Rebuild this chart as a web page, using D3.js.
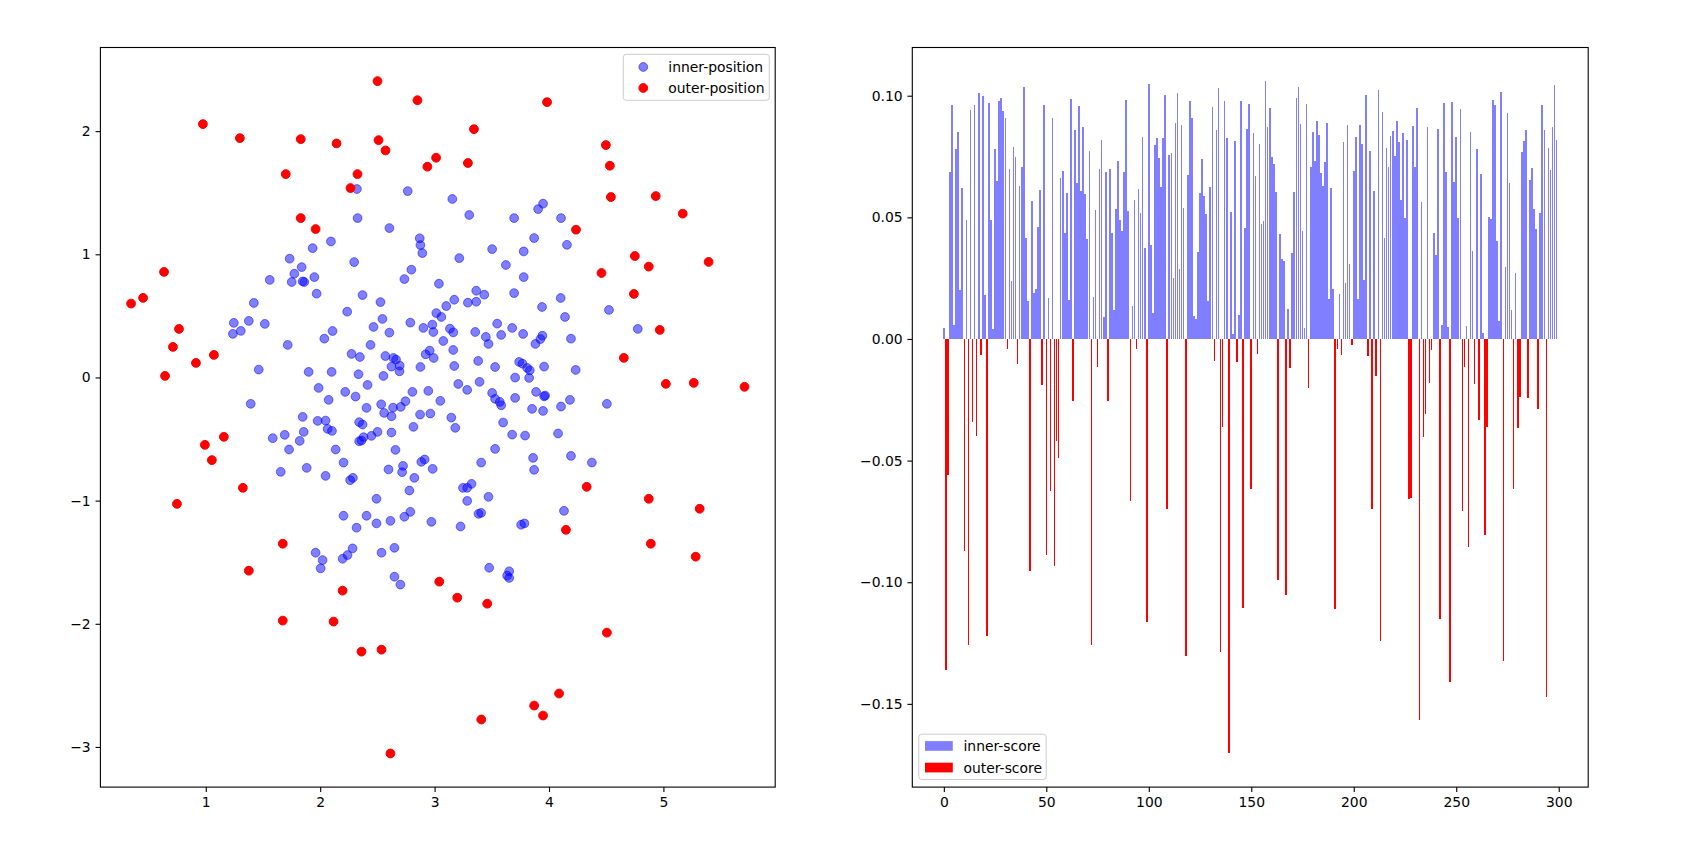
<!DOCTYPE html>
<html><head><meta charset="utf-8">
<script src="https://cdn.jsdelivr.net/npm/d3@7"></script>
<style>
html,body{margin:0;padding:0;background:#fff;}
svg{display:block;font-family:"DejaVu Sans",sans-serif;}
</style></head><body>
<svg id="fig" width="1693" height="854"></svg>
<script>
// ---------------- data ----------------
const innerX = [1.934,2.094,2.876,2.893,3.216,3.503,3.779,4.157,1.733,1.838,2.297,1.774,1.949,1.751,1.847,1.861,1.969,2.797,2.736,3.038,3.623,3.779,3.364,3.434,3.695,2.370,2.527,3.172,3.291,3.364,3.102,4.102,3.939,2.236,3.015,3.059,2.544,2.788,2.980,3.547,4.140,2.466,2.108,2.036,2.605,2.902,3.134,3.163,2.989,3.355,3.678,3.774,3.582,3.448,3.471,3.076,3.942,3.925,3.881,4.192,1.716,2.440,3.163,2.957,2.922,2.992,2.274,2.347,2.570,2.640,2.663,2.623,2.695,2.693,2.876,3.172,3.381,3.529,3.739,3.768,3.809,3.832,3.826,3.957,4.233,1.899,2.100,2.335,2.553,2.414,1.986,2.219,2.074,2.309,2.806,2.945,3.207,3.285,3.393,3.704,3.503,3.529,3.570,3.582,3.704,3.887,3.957,4.183,4.105,3.852,3.948,3.050,2.745,2.704,2.637,2.533,2.405,2.559,2.623,2.873,2.963,3.146,3.181,2.815,1.847,1.978,2.047,2.065,2.103,2.341,2.370,1.856,1.821,1.728,2.448,2.501,2.623,2.379,2.341,2.361,3.599,3.678,3.791,4.079,2.135,2.658,3.529,3.861,4.192,4.375,1.882,2.204,2.047,2.262,2.286,2.597,2.724,2.716,2.884,2.913,2.983,2.823,3.407,3.870,3.248,3.285,3.323,2.780,2.492,3.285,3.471,2.204,2.405,2.318,2.492,2.614,2.736,2.788,2.972,3.227,3.384,3.407,3.756,3.785,4.131,1.960,2.021,2.196,2.239,2.283,2.536,2.649,3.966,
2.321,2.765,2.327,2.605,2.870,1.559,1.420,1.245,1.376,1.516,1.237,1.306,1.463,1.393,
3.870,4.524,4.776,4.506,3.155,3.303,3.695,3.905,3.948,4.105,
1.585,1.655,2.004,2.649,2.701,1.690,
3.477,3.652,3.634,3.652];
const innerY = [1.050,1.104,1.075,1.010,0.969,1.042,1.023,1.077,0.964,0.896,0.937,0.842,0.815,0.775,0.780,0.775,0.680,0.875,0.799,0.761,0.913,0.815,0.704,0.672,0.685,0.669,0.612,0.631,0.607,0.615,0.580,0.645,0.572,0.534,0.523,0.491,0.475,0.445,0.429,0.437,0.491,0.410,0.377,0.315,0.364,0.402,0.396,0.366,0.369,0.369,0.402,0.353,0.345,0.329,0.272,0.296,0.339,0.312,0.272,0.315,0.264,0.264,0.223,0.218,0.188,0.158,0.191,0.166,0.174,0.158,0.145,0.088,0.096,0.050,0.085,0.093,0.134,0.085,0.126,0.112,0.077,0.058,-0.004,0.088,0.061,0.045,0.045,0.026,0.012,-0.061,-0.085,-0.117,-0.182,-0.155,-0.117,-0.109,-0.053,-0.101,-0.036,-0.001,-0.126,-0.174,-0.199,-0.226,-0.166,-0.117,-0.153,-0.182,-0.236,-0.255,-0.272,-0.190,-0.193,-0.239,-0.245,-0.218,-0.247,-0.288,-0.315,-0.301,-0.293,-0.326,-0.409,-0.401,-0.320,-0.353,-0.350,-0.418,-0.434,-0.363,-0.382,-0.442,-0.515,-0.585,-0.474,-0.442,-0.447,-0.485,-0.518,-0.512,-0.366,-0.464,-0.472,-0.455,-0.585,-0.588,-0.580,-0.653,-0.637,-0.691,-0.734,-0.691,-0.799,-0.834,-0.815,-0.747,-0.718,-0.769,-0.685,-0.666,-0.742,-0.815,-0.691,-0.750,-0.896,-0.896,-0.864,-0.918,-0.985,-1.002,-0.969,-1.123,-1.123,-1.220,-1.185,-1.164,-1.131,-1.091,-1.172,-1.210,-1.107,-1.099,-1.196,-1.185,-1.083,-1.423,-1.483,-1.472,-1.442,-1.388,-1.423,-1.383,-0.147,
1.530,1.513,1.294,1.213,1.130,0.792,0.605,0.443,0.459,0.435,0.354,0.378,0.064,-0.214,
1.132,0.548,0.394,-0.214,1.449,1.319,1.294,1.367,1.411,1.294,
-0.493,-0.766,-1.550,-1.618,-1.682,-0.466,
-1.545,-1.574,-1.609,-1.628];
const outerX = [4.459,4.329,4.148,2.501,2.850,0.975,1.298,1.830,2.143,2.510,2.571,3.013,2.937,1.699,2.326,2.265,1.830,1.960,0.635,0.452,0.347,0.766,0.713,0.914,1.071,0.644,3.983,3.344,3.291,4.497,4.532,4.541,4.933,5.169,4.236,4.750,4.872,5.395,4.742,4.968,4.654,5.021,5.265,5.709,1.158,0.992,1.053,1.324,0.748,1.673,1.376,2.196,1.673,2.117,2.361,2.536,2.614,3.041,3.198,3.460,4.872,5.317,4.890,5.282,4.506,4.088,3.870,3.948,3.408];
const outerY = [0.848,-0.888,-1.237,2.406,2.251,2.057,1.943,1.935,1.900,1.927,1.843,1.784,1.711,1.651,1.651,1.538,1.294,1.205,0.857,0.646,0.600,0.394,0.248,0.118,0.183,0.013,2.235,2.016,1.741,1.887,1.719,1.465,1.473,1.330,1.200,0.986,0.900,0.938,0.678,0.386,0.159,-0.052,-0.044,-0.076,-0.482,-0.547,-0.671,-0.896,-1.026,-1.350,-1.569,-1.731,-1.974,-1.982,-2.226,-2.210,-3.053,-1.658,-1.788,-1.837,-0.985,-1.066,-1.350,-1.455,-2.072,-2.566,-2.664,-2.745,-2.777];

// score per sample index (positive = inner-score, negative = outer-score)
const scores = [0.0045,-0.136,-0.056,0.0686,0.096,0.0057,0.078,0.085,0.020,0.062,
-0.087,0.049,-0.126,0.094,-0.034,0.096,-0.040,0.101,-0.0066,0.100,
0.018,-0.122,0.097,0.049,0.004,0.078,0.065,0.098,0.099,0.0936,
0.091,-0.004,0.070,0.024,0.079,0.075,-0.0103,0.063,0.0706,0.1036,
0.0415,0.0155,-0.0955,0.0567,0.019,0.0205,0.046,0.0613,-0.019,0.096,
-0.089,0.0168,-0.0626,0.0907,-0.0932,-0.0419,-0.049,0.066,0.069,0.0437,
0.060,0.016,0.0986,-0.0255,0.0859,0.064,0.0957,0.0608,0.0872,0.0595,
0.041,0.0772,-0.1257,0.0173,0.0529,-0.0116,0.070,0.0818,0.0091,0.0686,
-0.0255,0.070,0.0435,0.012,0.0535,0.073,0.0488,0.0444,0.0686,0.0982,
0.0526,-0.0665,0.0135,0.057,-0.0041,0.0617,0.0517,0.0832,0.0374,-0.1164,
0.105,0.0387,0.0107,0.0797,0.0825,0.0743,0.0624,0.0825,0.1002,-0.0697,
0.0756,0.0765,0.025,0.0888,0.101,0.0287,0.0879,0.054,-0.1305,0.0674,
0.0979,0.0907,0.0094,0.0082,0.0357,0.060,0.074,0.0588,0.0513,0.0155,
0.0624,0.0954,-0.0091,0.0859,0.1032,-0.1285,-0.0362,0.0979,0.0825,-0.1704,
0.0522,0.002,0.0813,-0.0094,0.010,0.0979,-0.1105,0.0456,0.0863,0.0966,
-0.0615,0.0847,0.067,-0.0061,0.080,0.0472,0.0485,0.106,0.0872,0.0948,
0.0747,0.0718,0.0604,-0.099,0.0431,0.0328,0.0321,-0.1052,0.0123,-0.0121,
0.0353,0.0604,0.099,0.1036,0.0884,0.0444,0.0045,0.0966,-0.0201,0.0706,
0.085,0.073,0.0895,0.0838,0.0684,0.0629,0.0727,0.0888,0.0164,0.062,
0.0205,-0.111,-0.0041,0.0185,-0.0064,0.0809,0.023,0.0879,0.0308,-0.0023,
0.069,0.0831,0.0164,0.0879,0.080,0.0242,0.1002,-0.0068,0.0772,-0.0697,
0.0608,-0.0152,0.1023,-0.124,0.0932,0.0415,0.0784,0.0706,0.0834,0.0854,
0.0752,0.0895,0.0809,0.057,0.0847,0.0497,0.0818,-0.0656,-0.0652,0.0875,
0.0706,0.0948,-0.1565,0.0563,-0.0401,-0.031,0.0872,-0.018,-0.0045,0.0435,
0.0344,0.0863,-0.1153,0.0057,0.097,0.0686,0.0048,-0.1412,0.0973,0.0645,
0.0831,0.0497,0.0945,-0.0709,-0.0116,0.0053,-0.0856,0.085,0.0362,-0.0184,
0.078,-0.0332,0.0677,0.0025,-0.0807,-0.036,0.050,0.0492,0.0982,0.096,
0.0403,0.0073,0.1014,-0.1323,0.0296,0.0929,0.064,0.012,-0.0615,0.0271,
-0.0365,-0.0237,0.0768,0.0813,0.0859,-0.0242,0.0652,0.0702,0.0535,0.0451,
-0.0287,0.0517,0.096,0.0859,-0.147,0.0784,0.0693,0.0872,0.1043,0.0818];

const scatterXTicks = [1,2,3,4,5];
const scatterYTicks = [-3,-2,-1,0,1,2];
const barXTicks = [0,50,100,150,200,250,300];
const barYTicks = [-0.15,-0.10,-0.05,0.00,0.05,0.10];
const scatterLegend = ["inner-position","outer-position"];
const barLegend = ["inner-score","outer-score"];

// ---------------- layout ----------------
const svg = d3.select("#fig");
const FS = 13.9, TICK = 4.86, PAD = 4.86;
const ax1 = {l:100.4, r:775.2, t:47.5, b:787.1};
const ax2 = {l:912.3, r:1588.2, t:47.5, b:787.1};
const BLUE = "#0000ff", RED = "#ff0000";

function pad(ext){ const d = ext[1]-ext[0]; return [ext[0]-0.05*d, ext[1]+0.05*d]; }

// ---------- scatter ----------
const allX = innerX.concat(outerX), allY = innerY.concat(outerY);
const x1 = d3.scaleLinear().domain(pad(d3.extent(allX))).range([ax1.l, ax1.r]);
const y1 = d3.scaleLinear().domain(pad(d3.extent(allY))).range([ax1.b, ax1.t]);

const g1 = svg.append("g");
const R = 4.4;
g1.append("g").selectAll("circle").data(innerX.map((v,i)=>[v,innerY[i]])).join("circle")
  .attr("cx",d=>x1(d[0])).attr("cy",d=>y1(d[1])).attr("r",R)
  .attr("fill",BLUE).attr("fill-opacity",0.5)
  .attr("stroke",BLUE).attr("stroke-opacity",0.5).attr("stroke-width",1);
g1.append("g").selectAll("circle").data(outerX.map((v,i)=>[v,outerY[i]])).join("circle")
  .attr("cx",d=>x1(d[0])).attr("cy",d=>y1(d[1])).attr("r",R)
  .attr("fill",RED).attr("stroke",RED).attr("stroke-width",1);

function styleAxis(g){
  g.selectAll("path").remove();
  g.selectAll("line").attr("stroke","#000").attr("stroke-width",1.1);
  g.selectAll("text").attr("font-size",FS).attr("fill","#000").attr("font-family","DejaVu Sans");
}
g1.append("g").attr("transform",`translate(0,${ax1.b})`)
  .call(d3.axisBottom(x1).tickValues(scatterXTicks).tickFormat(d3.format("d")).tickSize(TICK).tickPadding(PAD))
  .call(styleAxis);
g1.append("g").attr("transform",`translate(${ax1.l},0)`)
  .call(d3.axisLeft(y1).tickValues(scatterYTicks).tickFormat(d3.format("d")).tickSize(TICK).tickPadding(PAD))
  .call(styleAxis);
g1.append("rect").attr("x",ax1.l).attr("y",ax1.t).attr("width",ax1.r-ax1.l).attr("height",ax1.b-ax1.t)
  .attr("fill","none").attr("stroke","#000").attr("stroke-width",1.1);

// scatter legend
const lg1 = g1.append("g");
lg1.append("rect").attr("x",623.3).attr("y",54.3).attr("width",146).attr("height",46).attr("rx",3)
  .attr("fill","#fff").attr("fill-opacity",0.8).attr("stroke","#cccccc").attr("stroke-width",1);
scatterLegend.forEach((t,i)=>{
  const cy = 67 + i*21;
  lg1.append("circle").attr("cx",643.3).attr("cy",cy).attr("r",R)
    .attr("fill", i===0?BLUE:RED).attr("fill-opacity", i===0?0.5:1)
    .attr("stroke", i===0?BLUE:RED).attr("stroke-opacity", i===0?0.5:1);
  lg1.append("text").attr("x",668.3).attr("y",cy).attr("dy","0.36em").attr("font-size",FS).text(t);
});

// ---------- bars ----------
const idx = d3.range(scores.length);
const x2 = d3.scaleLinear().domain(pad([-0.4, scores.length-1+0.4])).range([ax2.l, ax2.r]);
const y2 = d3.scaleLinear().domain(pad([Math.min(0,d3.min(scores)), Math.max(0,d3.max(scores))])).range([ax2.b, ax2.t]);
const g2 = svg.append("g");
// snap bar edges to whole pixels (like the Agg renderer does)
const bx0 = i => Math.round(x2(i-0.4));
const bw = i => Math.max(1, Math.round(x2(i+0.4)) - bx0(i));
const y0 = Math.round(y2(0));
g2.append("g").attr("shape-rendering","crispEdges").selectAll("rect").data(idx.filter(i=>scores[i]>0)).join("rect")
  .attr("x",bx0).attr("width",bw)
  .attr("y",i=>Math.round(y2(scores[i]))).attr("height",i=>y0-Math.round(y2(scores[i])))
  .attr("fill",BLUE).attr("fill-opacity",0.5);
g2.append("g").attr("shape-rendering","crispEdges").selectAll("rect").data(idx.filter(i=>scores[i]<0)).join("rect")
  .attr("x",bx0).attr("width",bw)
  .attr("y",y0).attr("height",i=>Math.round(y2(scores[i]))-y0)
  .attr("fill",RED);
g2.append("g").attr("transform",`translate(0,${ax2.b})`)
  .call(d3.axisBottom(x2).tickValues(barXTicks).tickFormat(d3.format("d")).tickSize(TICK).tickPadding(PAD))
  .call(styleAxis);
g2.append("g").attr("transform",`translate(${ax2.l},0)`)
  .call(d3.axisLeft(y2).tickValues(barYTicks).tickFormat(d3.format(".2f")).tickSize(TICK).tickPadding(PAD))
  .call(styleAxis);
g2.append("rect").attr("x",ax2.l).attr("y",ax2.t).attr("width",ax2.r-ax2.l).attr("height",ax2.b-ax2.t)
  .attr("fill","none").attr("stroke","#000").attr("stroke-width",1.1);

// bar legend
const lg2 = g2.append("g");
lg2.append("rect").attr("x",918.8).attr("y",734.2).attr("width",127.4).attr("height",45.3).attr("rx",3)
  .attr("fill","#fff").attr("fill-opacity",0.8).attr("stroke","#cccccc").attr("stroke-width",1);
barLegend.forEach((t,i)=>{
  const cy = 746 + i*21.6;
  lg2.append("rect").attr("x",925).attr("y",cy-4.9).attr("width",27.8).attr("height",9.7)
    .attr("fill", i===0?BLUE:RED).attr("fill-opacity", i===0?0.5:1);
  lg2.append("text").attr("x",963.5).attr("y",cy).attr("dy","0.36em").attr("font-size",FS).text(t);
});
</script>
</body></html>
